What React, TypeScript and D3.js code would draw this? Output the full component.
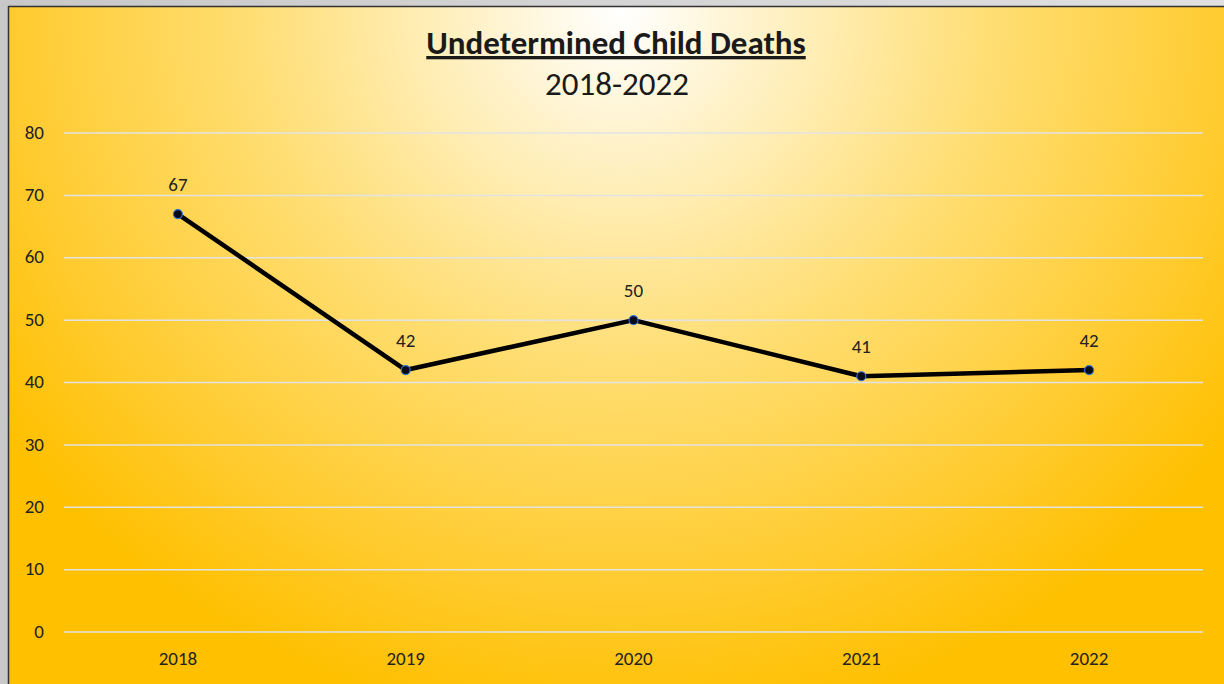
import React from "react";
import * as d3 from "d3";

const categories = ["2018", "2019", "2020", "2021", "2022"];
const values = [67, 42, 50, 41, 42];
const yTicks = [0, 10, 20, 30, 40, 50, 60, 70, 80];
const titleText = "Undetermined Child Deaths";
const subtitleText = "2018-2022";

export default function App() {
  const W = 1224, H = 684;
  const left = 64, right = 1203, top = 133, bottom = 632;
  const x = d3.scaleBand<string>().domain(categories).range([left, right]);
  const y = d3.scaleLinear().domain([0, 80]).range([bottom, top]);
  const line = d3
    .line<number>()
    .x((_, i) => (x(categories[i]) as number) + x.bandwidth() / 2)
    .y((d) => y(d));
  const font = "Carlito, 'Open Sans', 'Liberation Sans', sans-serif";
  const txt = "#222";
  return (
    <svg
      width={W}
      height={H}
      style={{ position: "fixed", left: 0, top: 0, display: "block" }}
    >
      <defs>
        <radialGradient id="bg" cx="620" cy="10" r="760" gradientUnits="userSpaceOnUse" gradientTransform="translate(620 10) scale(1 0.95) translate(-620 -10)">
          <stop offset="0" stopColor="#FFFFFF" />
          <stop offset="0.22" stopColor="#FFF0C0" />
          <stop offset="0.5" stopColor="#FFDD70" />
          <stop offset="0.78" stopColor="#FFCC33" />
          <stop offset="1" stopColor="#FFC000" />
        </radialGradient>
        <linearGradient id="frame" x1="0" y1="0" x2="1" y2="0">
          <stop offset="0" stopColor="#c8c8c8" />
          <stop offset="1" stopColor="#e0e0e0" />
        </linearGradient>
      </defs>
      <rect x={0} y={0} width={W} height={H} fill="url(#frame)" />
      <rect x={9} y={7} width={W - 9} height={H - 7} fill="url(#bg)" />
      <line x1={8.5} y1={6} x2={8.5} y2={H} stroke="#333" strokeWidth={1.5} />
      <line x1={8} y1={6.5} x2={W} y2={6.5} stroke="#333" strokeWidth={1.5} />
      {yTicks.map((t) => (
        <g key={t}>
          <line x1={left} x2={right} y1={y(t)} y2={y(t)} stroke="#E3E3E3" strokeWidth={1.5} />
          <text x={44} y={y(t) - 1} dy="0.35em" textAnchor="end" fontFamily={font} fontSize={19} fill={txt}>
            {t}
          </text>
        </g>
      ))}
      {categories.map((c) => (
        <text key={c} x={(x(c) as number) + x.bandwidth() / 2} y={658} dy="0.35em" textAnchor="middle" fontFamily={font} fontSize={19} fill={txt}>
          {c}
        </text>
      ))}
      <path d={line(values) || ""} fill="none" stroke="#000" strokeWidth={4.5} strokeLinejoin="round" />
      {values.map((v, i) => {
        const cx = (x(categories[i]) as number) + x.bandwidth() / 2;
        return (
          <g key={i}>
            <circle cx={cx} cy={y(v)} r={4.5} fill="#050a1a" stroke="#3a6fd8" strokeWidth={1.2} />
            <text x={cx} y={y(v) - 30} dy="0.35em" textAnchor="middle" fontFamily={font} fontSize={19} fill={txt}>
              {v}
            </text>
          </g>
        );
      })}
      <text x={616} y={54} textAnchor="middle" fontFamily={font} fontSize={33} fontWeight="bold" fill="#1a1a1a" textDecoration="underline">
        {titleText}
      </text>
      <text x={617} y={95} textAnchor="middle" fontFamily={font} fontSize={33} fill="#1a1a1a">
        {subtitleText}
      </text>
    </svg>
  );
}
